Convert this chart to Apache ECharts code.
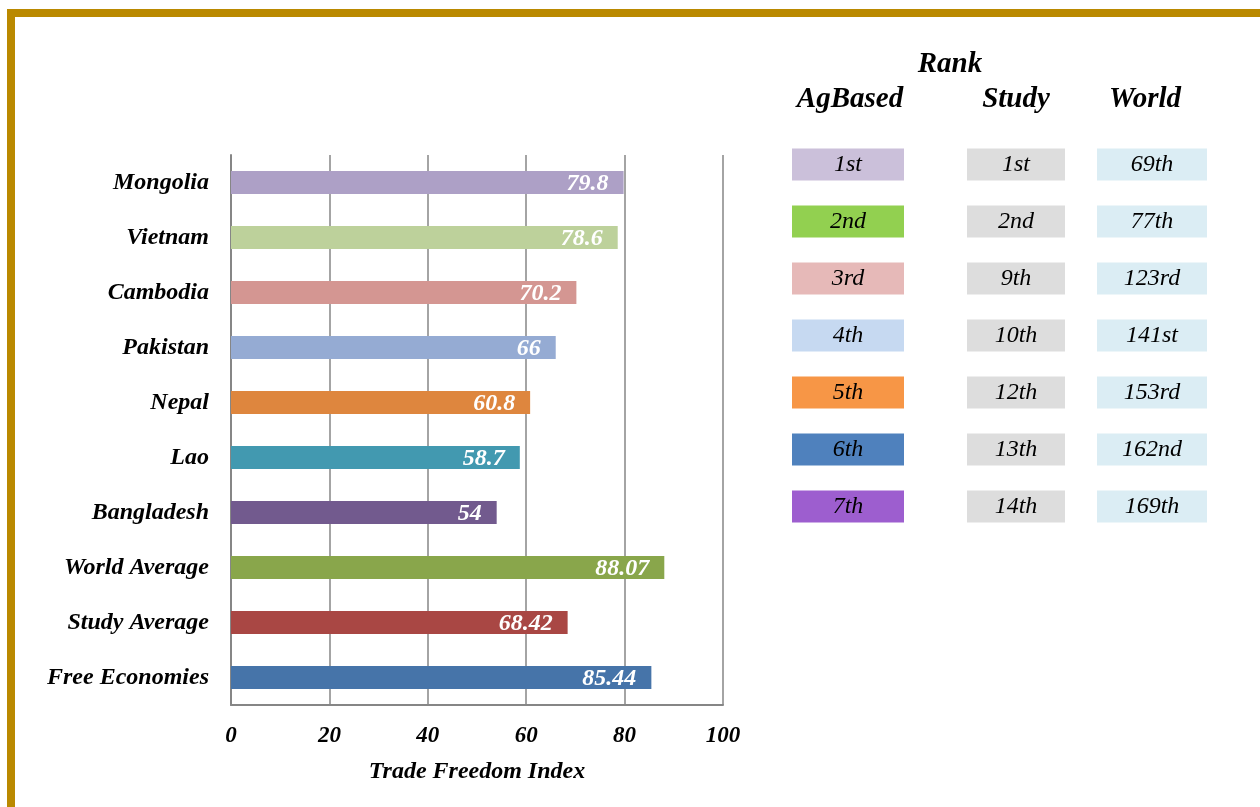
<!DOCTYPE html>
<html><head><meta charset="utf-8">
<script src="https://cdn.jsdelivr.net/npm/echarts@6/dist/echarts.min.js"></script>
<style>
html,body{margin:0;padding:0;background:#fff;overflow:hidden}
#frame{position:absolute;left:7px;top:9px;width:1400px;height:1000px;border-left:8px solid #BA8900;border-top:8px solid #BA8900;box-sizing:border-box}
#chart{position:absolute;left:0;top:0;width:1260px;height:807px}
</style></head><body>
<div id="frame"></div><div id="chart"></div>
<script>
// ---- data ----
const categories = ['Free Economies','Study Average','World Average','Bangladesh','Lao','Nepal','Pakistan','Cambodia','Vietnam','Mongolia'];
const values = [85.44, 68.42, 88.07, 54, 58.7, 60.8, 66, 70.2, 78.6, 79.8];
const valueLabels = ['85.44','68.42','88.07','54','58.7','60.8','66','70.2','78.6','79.8'];
const barColors = ['#4674A9','#A94744','#89A64B','#725A8E','#4299B0','#DE863E','#95ABD3','#D49692','#BDD19B','#ADA0C6'];
const xTicks = [0, 20, 40, 60, 80, 100];
const xTitle = 'Trade Freedom Index';
const rankTitle = 'Rank';
const rankHeaders = ['AgBased', 'Study', 'World'];
const rankRows = ['r1','r2','r3','r4','r5','r6','r7'];
const agBasedRanks = ['1st','2nd','3rd','4th','5th','6th','7th'];
const studyRanks = ['1st','2nd','9th','10th','12th','13th','14th'];
const worldRanks = ['69th','77th','123rd','141st','153rd','162nd','169th'];
const agBasedColors = ['#CBC0DA','#92D050','#E6B9B8','#C6D9F1','#F79646','#4F81BD','#9D5ECF'];
const studyColor = '#DDDDDD';
const worldColor = '#DBEDF4';

// ---- chart ----
const SERIF = "'Liberation Serif','Times New Roman',serif";
const chart = echarts.init(document.getElementById('chart'), null, {renderer: 'canvas'});

const rankGrids = [
  {left: 792, width: 112, top: 136, height: 399},
  {left: 967, width: 98, top: 136, height: 399},
  {left: 1097, width: 110, top: 136, height: 399}
];
const rankLists = [agBasedRanks, studyRanks, worldRanks];
const rankColors = [agBasedColors, rankRows.map(() => studyColor), rankRows.map(() => worldColor)];
const headStyle = {fontFamily: SERIF, fontSize: 29, fontWeight: 'bold', fontStyle: 'italic', color: '#000'};

const option = {
  animation: false,
  backgroundColor: 'transparent',
  title: [
    {text: rankTitle, left: 950, top: 50, padding: 0, textAlign: 'center', textStyle: headStyle},
    {text: rankHeaders[0], left: 850, top: 85, padding: 0, textAlign: 'center', textStyle: headStyle},
    {text: rankHeaders[1], left: 1016, top: 85, padding: 0, textAlign: 'center', textStyle: headStyle},
    {text: rankHeaders[2], left: 1145, top: 85, padding: 0, textAlign: 'center', textStyle: headStyle}
  ],
  grid: [
    {left: 231, width: 492, top: 155, height: 550}
  ].concat(rankGrids),
  xAxis: [
    {
      gridIndex: 0, type: 'value', min: xTicks[0], max: xTicks[xTicks.length - 1], interval: 20,
      name: xTitle, nameLocation: 'middle', nameGap: 55,
      nameTextStyle: {fontFamily: SERIF, fontSize: 24, fontWeight: 'bold', fontStyle: 'italic', color: '#000'},
      axisLine: {show: true, lineStyle: {color: '#868686', width: 2}},
      axisTick: {show: false},
      axisLabel: {margin: 20, fontFamily: SERIF, fontSize: 23, fontWeight: 'bold', fontStyle: 'italic', color: '#000'},
      splitLine: {show: true, lineStyle: {color: '#868686', width: 1.5}}
    }
  ].concat(rankGrids.map((g, i) => ({gridIndex: i + 1, type: 'value', min: 0, max: 1, show: false}))),
  yAxis: [
    {
      gridIndex: 0, type: 'category', data: categories,
      axisLine: {show: true, lineStyle: {color: '#868686', width: 2}},
      axisTick: {show: false},
      axisLabel: {margin: 22, fontFamily: SERIF, fontSize: 24, fontWeight: 'bold', fontStyle: 'italic', color: '#000'}
    }
  ].concat(rankGrids.map((g, i) => ({gridIndex: i + 1, type: 'category', data: rankRows, inverse: true, show: false}))),
  series: [
    {
      type: 'bar', xAxisIndex: 0, yAxisIndex: 0, barWidth: 23,
      data: values.map((v, i) => ({value: v, itemStyle: {color: barColors[i]}})),
      label: {
        show: true, position: 'insideRight', distance: 15, offset: [0, 1],
        formatter: p => valueLabels[p.dataIndex],
        fontFamily: SERIF, fontSize: 24, fontWeight: 'bold', fontStyle: 'italic', color: '#fff'
      }
    }
  ].concat(rankLists.map((list, k) => ({
    type: 'bar', xAxisIndex: k + 1, yAxisIndex: k + 1, barWidth: 32,
    data: list.map((t, i) => ({value: 1, name: t, itemStyle: {color: rankColors[k][i]}})),
    label: {
      show: true, position: 'inside', formatter: p => list[p.dataIndex],
      fontFamily: SERIF, fontSize: 24, fontStyle: 'italic', color: '#000'
    }
  })))
};
chart.setOption(option);
</script>
</body></html>
